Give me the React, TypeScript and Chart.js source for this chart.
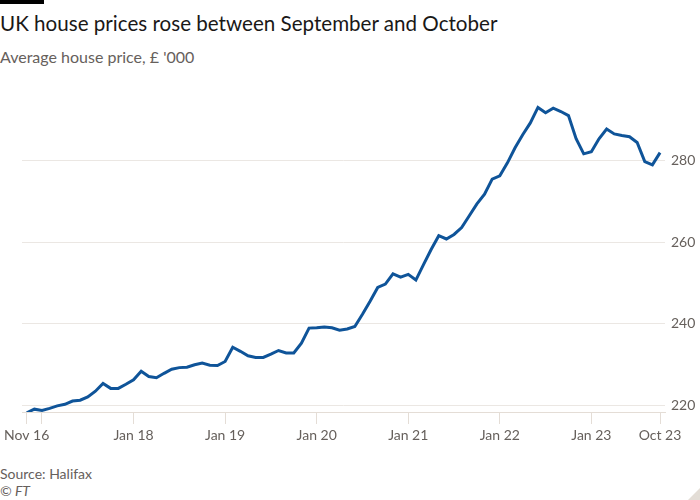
import React, { useEffect, useRef } from 'react';
import { Chart, registerables } from 'chart.js';

Chart.register(...registerables);

// Monthly Halifax average house price, £'000, Nov 2016 .. Oct 2023
const prices: number[] = [
  218.1, 219.0, 218.7, 219.2, 219.8, 220.2, 221.0, 221.2, 222.0, 223.4,
  225.3, 224.1, 224.1, 225.1, 226.2, 228.3, 227.0, 226.7, 227.8, 228.8,
  229.2, 229.3, 229.9, 230.3, 229.8, 229.7, 230.7, 234.2, 233.2, 232.1,
  231.7, 231.7, 232.5, 233.4, 232.8, 232.8, 235.2, 238.9, 239.0, 239.2,
  239.0, 238.4, 238.7, 239.3, 242.3, 245.5, 248.9, 249.7, 252.2, 251.4,
  252.1, 250.7, 254.5, 258.2, 261.6, 260.8, 261.9, 263.6, 266.5, 269.4,
  271.8, 275.5, 276.3, 279.5, 283.2, 286.4, 289.3, 293.1, 291.8, 292.9,
  292.1, 291.1, 285.4, 281.7, 282.2, 285.4, 287.8, 286.6, 286.2, 285.9,
  284.5, 279.8, 279.0, 282.0,
];

// month index of each x tick (0 = Nov 16)
const xTickIndex: number[] = [0, 2, 14, 26, 38, 50, 62, 74, 83];
const xTickLabels: string[] = ['Nov 16', '', 'Jan 18', 'Jan 19', 'Jan 20', 'Jan 21', 'Jan 22', 'Jan 23', 'Oct 23'];
const yTicks: number[] = [220, 240, 260, 280];

const FONT = 'Lato, "Noto Sans", sans-serif';

export default function App() {
  const ref = useRef<HTMLCanvasElement | null>(null);

  useEffect(() => {
    document.body.style.margin = '0';
    if (!ref.current) return;
    const chart = new Chart(ref.current, {
      type: 'line',
      data: {
        datasets: [
          {
            data: prices.map((v, i) => ({ x: i, y: v })),
            borderColor: '#0f5499',
            borderWidth: 3,
            pointRadius: 0,
            tension: 0,
            fill: false,
          },
        ],
      },
      options: {
        animation: false,
        responsive: false,
        maintainAspectRatio: false,
        layout: { padding: { left: 22, top: 8, right: 0, bottom: 0 } },
        plugins: { legend: { display: false }, tooltip: { enabled: false } },
        scales: {
          x: {
            type: 'linear',
            min: -0.62,
            max: 83.65,
            afterBuildTicks: (s: any) => {
              s.ticks = xTickIndex.map((v) => ({ value: v }));
            },
            afterFit: (s: any) => {
              s.height = 30;
            },
            ticks: {
              autoSkip: false,
              maxRotation: 0,
              padding: 3,
              color: '#66605c',
              font: { family: FONT, size: 14 },
              callback: (v: any) => {
                const k = xTickIndex.indexOf(Number(v));
                return k >= 0 ? xTickLabels[k] : '';
              },
            },
            grid: {
              drawOnChartArea: false,
              drawTicks: true,
              tickLength: 12,
              color: '#e4ddd6',
            },
            border: { display: true, color: '#e4ddd6' },
          },
          y: {
            position: 'right',
            min: 218.3,
            max: 296.3,
            afterBuildTicks: (s: any) => {
              s.ticks = yTicks.map((v) => ({ value: v }));
            },
            afterFit: (s: any) => {
              s.width = 35;
            },
            ticks: {
              padding: 6,
              color: '#66605c',
              font: { family: FONT, size: 14 },
            },
            grid: { color: '#ebe7e3', drawTicks: false },
            border: { display: false },
          },
        },
      },
    });
    return () => chart.destroy();
  }, []);

  return (
    <div style={{ position: 'absolute', left: 0, top: 0, width: 700, height: 500, background: '#fff', overflow: 'hidden', fontFamily: FONT }}>
      <div style={{ position: 'absolute', left: 0, top: 0, width: 44, height: 4, background: '#000' }} />
      <div style={{ position: 'absolute', left: 0, top: 11, fontSize: 20.6, fontWeight: 400, lineHeight: '24px', color: '#1a1817', whiteSpace: 'nowrap' }}>
        UK house prices rose between September and October
      </div>
      <div style={{ position: 'absolute', left: 0, top: 48, fontSize: 16, lineHeight: '18px', color: '#66605c', whiteSpace: 'nowrap' }}>
        Average house price, £ '000
      </div>
      <canvas ref={ref} width={700} height={362} style={{ position: 'absolute', left: 0, top: 80, width: 700, height: 362 }} />
      <div style={{ position: 'absolute', left: 0, top: 466, fontSize: 14, lineHeight: '16px', color: '#66605c', whiteSpace: 'nowrap' }}>
        Source: Halifax
      </div>
      <div style={{ position: 'absolute', left: 0, top: 483, fontSize: 14, lineHeight: '16px', color: '#66605c', fontStyle: 'italic', whiteSpace: 'nowrap' }}>
        © FT
      </div>
      <div style={{ position: 'absolute', right: 0, bottom: 0, width: 0, height: 0, borderStyle: 'solid', borderWidth: '0 0 12px 12px', borderColor: 'transparent transparent #e3ddd6 transparent' }} />
    </div>
  );
}
